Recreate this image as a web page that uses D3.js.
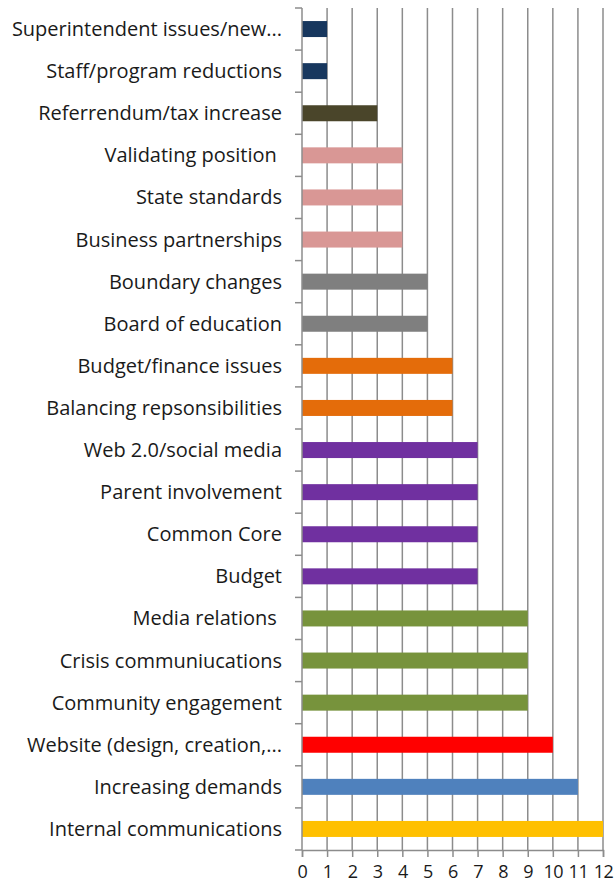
<!DOCTYPE html>
<meta charset="utf-8">
<script src="https://d3js.org/d3.v7.min.js"></script>
<style>
  body { margin: 0; background: #fff; }
  text { font-family: "Open Sans", sans-serif; fill: #1a1a1a; }
</style>
<div id="chart"></div>
<script>

// categories, top to bottom
var categories = ["Superintendent issues/new...", "Staff/program reductions", "Referrendum/tax increase",
  "Validating position ", "State standards", "Business partnerships", "Boundary changes", "Board of education",
  "Budget/finance issues", "Balancing repsonsibilities", "Web 2.0/social media", "Parent involvement",
  "Common Core", "Budget", "Media relations ", "Crisis communiucations", "Community engagement",
  "Website (design, creation,...", "Increasing demands", "Internal communications"];
var values = [1, 1, 3, 4, 4, 4, 5, 5, 6, 6, 7, 7, 7, 7, 9, 9, 9, 10, 11, 12];
var colors = ["#17375E", "#17375E", "#4A452A", "#D99795", "#D99795", "#D99795", "#7F7F7F", "#7F7F7F",
  "#E46C0A", "#E46C0A", "#7030A0", "#7030A0", "#7030A0", "#7030A0", "#77933C", "#77933C", "#77933C",
  "#FF0000", "#4F81BD", "#FFC000"];
var xTicks = [0, 1, 2, 3, 4, 5, 6, 7, 8, 9, 10, 11, 12];

var width = 615, height = 890;
var margin = {top: 8, right: 12, bottom: 40, left: 302};

var svg = d3.select("#chart").append("svg")
  .attr("width", width)
  .attr("height", height);

var x = d3.scaleLinear().domain([0, 12]).range([margin.left, width - margin.right]);
var y = d3.scaleBand().domain(categories).range([margin.top, height - margin.bottom]).paddingInner(0.62).paddingOuter(0.31);
var bandStep = y.step();

// gridlines
svg.append("g")
  .selectAll("line")
  .data(xTicks.slice(1))
  .enter().append("line")
  .attr("x1", d => x(d)).attr("x2", d => x(d))
  .attr("y1", margin.top).attr("y2", height - margin.bottom)
  .attr("stroke", "#8c8c8c")
  .attr("stroke-width", 1.5);

// bars
svg.append("g")
  .selectAll("rect")
  .data(categories)
  .enter().append("rect")
  .attr("x", x(0))
  .attr("y", d => y(d))
  .attr("width", (d, i) => x(values[i]) - x(0))
  .attr("height", y.bandwidth())
  .attr("fill", (d, i) => colors[i]);

// bottom axis
var xAxis = svg.append("g")
  .attr("transform", "translate(0," + (height - margin.bottom) + ")")
  .call(d3.axisBottom(x).tickValues(xTicks).tickSize(7).tickPadding(8).tickFormat(d3.format("d")));
xAxis.select(".domain").attr("stroke", "#8c8c8c").attr("stroke-width", 1.5);
xAxis.selectAll(".tick line").attr("stroke", "#8c8c8c").attr("stroke-width", 1.5);
xAxis.selectAll("text").style("font-size", "18px").style("letter-spacing", "-0.5px").attr("fill", "#1a1a1a");

// left axis: line and ticks between categories
var yBounds = d3.range(categories.length + 1).map(i => margin.top + i * bandStep);
var yg = svg.append("g");
yg.append("line")
  .attr("x1", x(0)).attr("x2", x(0))
  .attr("y1", margin.top).attr("y2", height - margin.bottom)
  .attr("stroke", "#8c8c8c").attr("stroke-width", 1.5);
yg.selectAll(".yt")
  .data(yBounds)
  .enter().append("line")
  .attr("x1", x(0) - 7).attr("x2", x(0))
  .attr("y1", d => d).attr("y2", d => d)
  .attr("stroke", "#8c8c8c").attr("stroke-width", 1.5);

// category labels
yg.selectAll("text")
  .data(categories)
  .enter().append("text")
  .attr("x", 282)
  .attr("y", d => y(d) + y.bandwidth() / 2)
  .attr("dy", "0.35em")
  .attr("text-anchor", "end")
  .style("font-size", "20px")
  .style("white-space", "pre")
  .text(d => d);

</script>
